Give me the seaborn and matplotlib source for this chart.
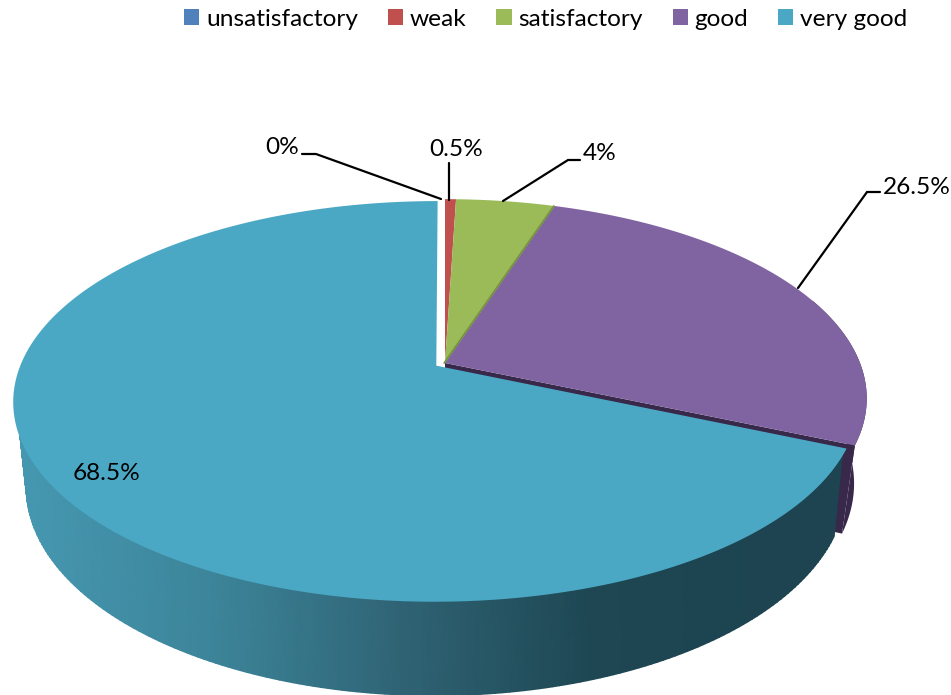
import numpy as np
import seaborn as sns
import matplotlib.pyplot as plt
from matplotlib.path import Path
from matplotlib.transforms import Affine2D, Transform

categories = ['unsatisfactory', 'weak', 'satisfactory', 'good', 'very good']
values = [0, 0.5, 4.5, 26.5, 68.5]
labels = ['0%', '0.5%', '4%', '26.5%', '68.5%']
colors = ['#4F81BD', '#C0504D', '#9BBB59', '#8064A2', '#4BA8C4']

# perspective of the tilted pie, in pixels
CX, CY = 445, 363
SX, SY = 415, 193
K, M = 0.178, 0.03
DEPTH = 87
EXPLODE = 0.025


def project(u, v, z=0):
    w = 1 + K * v + M * z
    return CX + SX * u / w, CY - (SY * v - DEPTH * z) / w


class Tilt(Transform):
    input_dims = 2
    output_dims = 2

    def transform_non_affine(self, xy):
        xy = np.asarray(xy)
        return np.column_stack(project(xy[:, 0], xy[:, 1]))

    def transform_path_non_affine(self, path):
        # flatten first, bezier control points do not survive a projective map
        poly = path.to_polygons(Affine2D().scale(2000), closed_only=False)[0] / 2000
        return Path(self.transform_non_affine(poly))


sns.set_theme(style='white')
plt.rcParams['font.family'] = ['Lato', 'DejaVu Sans']

fig = plt.figure(figsize=(9.51, 6.95), dpi=100)
ax = fig.add_axes([0, 0, 1, 1])

edges = np.radians(np.cumsum(values) / np.sum(values) * 360)
mid = (edges[3] + edges[4]) / 2
ex, ey = EXPLODE * np.sin(mid), EXPLODE * np.cos(mid)

# side of the purple slice, outer wall and the cut face
theta = np.linspace(np.radians(70), edges[3], 60)
x0, y0 = project(np.sin(theta), np.cos(theta), 0)
x1, y1 = project(np.sin(theta), np.cos(theta), 1)
ax.fill(np.r_[x0, x1[::-1]], np.r_[y0, y1[::-1]], color='#38284A', lw=0, zorder=0.5)
r = np.array([0, 1])
xa, ya = project(r * np.sin(edges[3]), r * np.cos(edges[3]), 0)
xb, yb = project(r * np.sin(edges[3]), r * np.cos(edges[3]), 1)
ax.fill(np.r_[xa, xb[::-1]], np.r_[ya, yb[::-1]], color='#38284A', lw=0, zorder=0.5)

# side of the big slice with its gradient, top row kept just inside the rim
theta = np.linspace(edges[3], np.radians(285), 200)
top = project(0.992 * np.sin(theta) + ex, 0.992 * np.cos(theta) + ey, 0)
bottom = project(np.sin(theta) + ex, np.cos(theta) + ey, 1)
xm = np.vstack([top[0], bottom[0]])
ym = np.vstack([top[1], bottom[1]])
wall_cmap = sns.blend_palette(['#4597B0', '#3C8499', '#2F6374', '#1E4753', '#1D4450'], as_cmap=True)
ax.pcolormesh(xm, ym, xm, cmap=wall_cmap, shading='gouraud', vmin=30, vmax=780, zorder=0.6)

wedges, _ = ax.pie(values, colors=colors, startangle=90, counterclock=False,
                   explode=[0, 0, 0, 0, EXPLODE], wedgeprops={'linewidth': 0})
for wedge in wedges:
    wedge.set_transform(Tilt() + ax.transData)
    wedge.set_clip_on(False)

ax.set_aspect('auto')
ax.set_xlim(0, 951)
ax.set_ylim(695, 0)
ax.axis('off')

# dark edge of the green slice
xg, yg = project(r * np.sin(edges[2]), r * np.cos(edges[2]))
ax.plot(xg - 0.8, yg, color='#76923F', lw=1.3, zorder=1.5)

# data labels and leader lines
label_pos = [(282, 148), (456, 149), (600, 153), (917, 187), (106, 474)]
leaders = [
    [(302, 154), (316, 154), (441, 199)],
    [(449, 163), (449, 200)],
    [(580, 160), (568, 160), (503, 201)],
    [(880, 192), (867, 192), (798, 288)],
    None,
]
for text, pos, line in zip(labels, label_pos, leaders):
    ax.text(pos[0], pos[1], text, ha='center', va='center', fontsize=17.6, color='black')
    if line:
        ax.plot(*zip(*line), color='black', lw=1.6, solid_joinstyle='miter')

ax.legend(wedges, categories, ncol=5, loc='upper left', bbox_to_anchor=(184, 9),
          bbox_transform=ax.transData, frameon=False, fontsize=17.6, borderpad=0,
          borderaxespad=0, handlelength=0.62, handleheight=0.62, handletextpad=0.28,
          columnspacing=1.22, labelcolor='black')

fig.savefig('out.png', dpi=100)
